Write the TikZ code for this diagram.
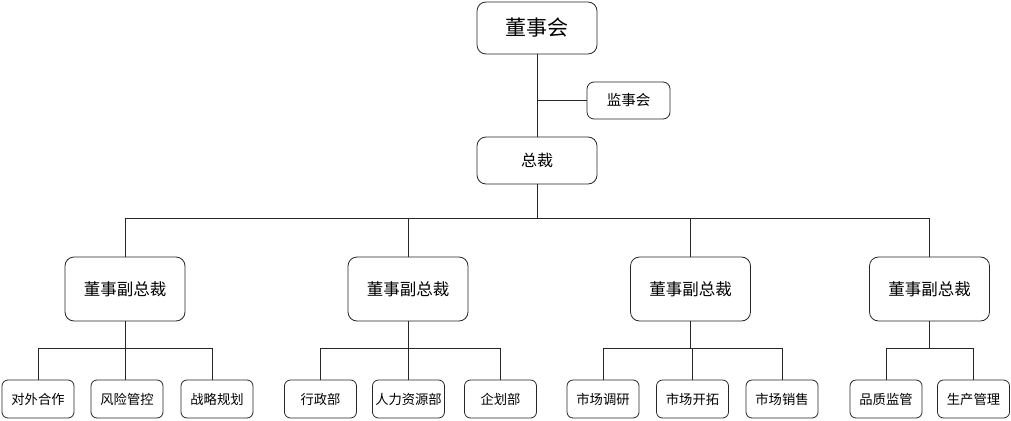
\documentclass[tikz,border=0pt]{standalone}
\usepackage{fontspec}
\setmainfont{Noto Sans CJK SC}
\begin{document}
\begin{tikzpicture}[x=1pt,y=-1pt,
  box/.style={draw=black!85, line width=0.8pt, rounded corners=9pt, align=center, inner sep=0pt},
  big/.style={box, minimum width=120pt, font=\fontsize{21}{23}\selectfont},
  vp/.style={box, minimum width=120pt, minimum height=64pt, font=\fontsize{16.5}{18}\selectfont},
  mid/.style={box},
  leaf/.style={box, rounded corners=6pt, minimum width=72pt, minimum height=38pt, font=\fontsize{13.3}{15}\selectfont},
  conn/.style={draw=black!85, line width=0.8pt}]
\useasboundingbox (0,0) rectangle (1011,420);
\node[big, minimum height=52pt] (top) at (537,28) {董事会};
\node[mid, minimum width=83pt, minimum height=37pt, rounded corners=7pt, font=\fontsize{14.5}{16}\selectfont] (jsh) at (628.5,100.5) {监事会};
\node[mid, minimum width=120pt, minimum height=47pt, font=\fontsize{16}{18}\selectfont] (zc) at (537,160.5) {总裁};
\node[vp] (v1) at (125,289) {董事副总裁};
\node[vp] (v2) at (408,289) {董事副总裁};
\node[vp] (v3) at (690.5,289) {董事副总裁};
\node[vp] (v4) at (929.5,289) {董事副总裁};
\node[leaf] (a1) at (38,399) {对外合作};
\node[leaf] (a2) at (127,399) {风险管控};
\node[leaf] (a3) at (217,399) {战略规划};
\node[leaf] (b1) at (320.5,399) {行政部};
\node[leaf] (b2) at (408.5,399) {人力资源部};
\node[leaf] (b3) at (500.5,399) {企划部};
\node[leaf] (c1) at (603,399) {市场调研};
\node[leaf] (c2) at (692.5,399) {市场开拓};
\node[leaf] (c3) at (782,399) {市场销售};
\node[leaf] (d1) at (886,399) {品质监管};
\node[leaf] (d2) at (973.5,399) {生产管理};
\coordinate (bus) at (537,218);
\coordinate (j1) at (125,348);
\coordinate (j2) at (408,348);
\coordinate (j3) at (690.5,348);
\coordinate (j4) at (929.5,348);
\draw[conn] (top.south) -- (zc.north);
\draw[conn] (top.south |- jsh.west) -- (jsh.west);
\draw[conn] (zc.south) -- (bus);
\foreach \v in {v1,v2,v3,v4} \draw[conn] (\v.north) |- (bus);
\draw[conn] (v1.south) -- (j1);
\draw[conn] (v2.south) -- (j2);
\draw[conn] (v3.south) -- (j3);
\draw[conn] (v4.south) -- (j4);
\draw[conn] (a1.north) |- (j1);
\draw[conn] ([xshift=-2pt]a2.north) |- (j1);
\draw[conn] ([xshift=-5pt]a3.north) |- (j1);
\foreach \c in {b1,b2,b3} \draw[conn] (\c.north) |- (j2);
\foreach \c in {c1,c2,c3} \draw[conn] (\c.north) |- (j3);
\foreach \c in {d1,d2} \draw[conn] (\c.north) |- (j4);
\end{tikzpicture}
\end{document}
